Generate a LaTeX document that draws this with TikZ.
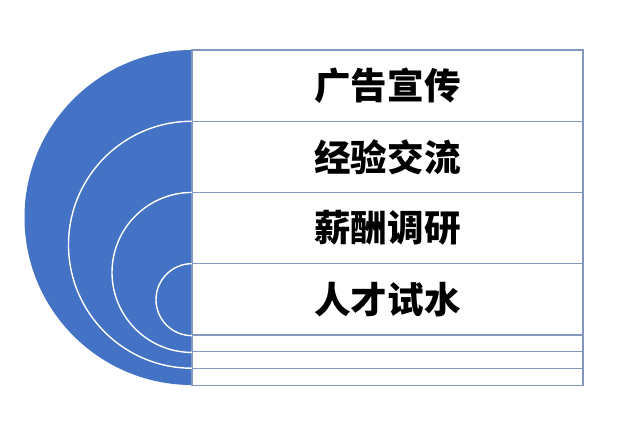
\documentclass[tikz,border=0pt]{standalone}
\usepackage{fontspec}
\usepackage{xcolor}
\usepackage{tikz}
\usetikzlibrary{positioning, calc}
\newfontfamily\cjk{Noto Sans CJK SC}
\definecolor{fanblue}{RGB}{68,114,196}
\definecolor{rowline}{RGB}{132,151,190}
\tikzstyle{rowbox} = [rectangle, minimum width=9.775cm, minimum height=1.78cm, inner sep=0pt, outer sep=0pt, draw=rowline, line width=0.9pt, fill=white, text centered, font=\cjk\bfseries\fontsize{26}{30}\selectfont]
\tikzstyle{thinrow} = [rowbox, minimum height=0.42cm]
\tikzstyle{ring} = [draw=white, line width=1pt]

\begin{document}
\begin{tikzpicture}[x=0.025cm, y=0.025cm]
    \useasboundingbox (0,0) rectangle (640,430);
    \fill[white] (0,0) rectangle (640,430);
    % half disc behind the rows
    \fill[fanblue] (192,380) arc (90:270:167.5) -- cycle;

    \node (ad) [rowbox, anchor=north west] at (192,380) {广告宣传};
    \node (talk) [rowbox, below=0pt of ad] {经验交流};
    \node (pay) [rowbox, below=0pt of talk] {薪酬调研};
    \node (trial) [rowbox, below=0pt of pay] {人才试水};
    \node (lineA) [thinrow, below=0pt of trial] {};
    \node (lineB) [thinrow, below=0pt of lineA] {};
    \node (lineC) [thinrow, below=0pt of lineB] {};

    % white rings from one row line to another
    \draw [ring] (talk.north west) arc (90:270:123.5);
    \draw [ring] (pay.north west) arc (90:270:80);
    \draw [ring] (trial.north west) arc (90:270:36);
  \end{tikzpicture}
\end{document}
